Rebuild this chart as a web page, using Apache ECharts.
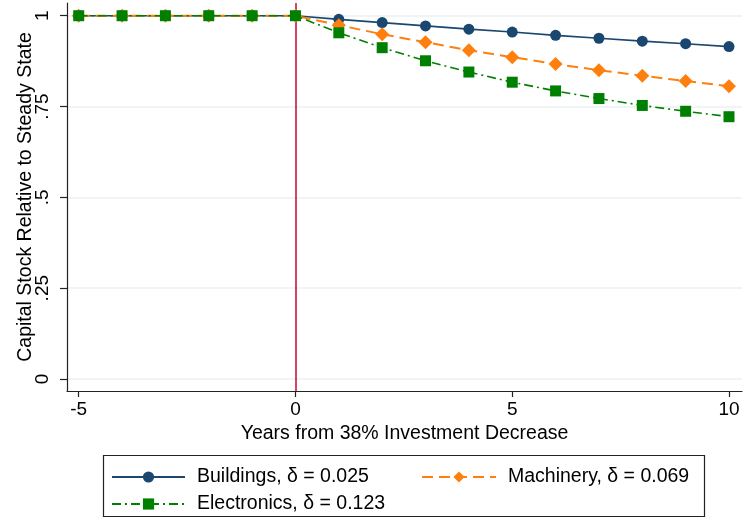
<!DOCTYPE html>
<html>
<head>
<meta charset="utf-8">
<script src="https://cdn.jsdelivr.net/npm/echarts@6/dist/echarts.min.js"></script>
<style>
  html, body { margin: 0; padding: 0; background: #fff; }
  #chart { width: 743px; height: 518px; }
</style>
</head>
<body>
<div id="chart"></div>
<script>
// Years relative to the investment cut
const years = [-5, -4, -3, -2, -1, 0, 1, 2, 3, 4, 5, 6, 7, 8, 9, 10];
// Capital stock relative to steady state, by asset type
const buildings   = [1, 1, 1, 1, 1, 1, 0.990, 0.981, 0.972, 0.963, 0.955, 0.946, 0.938, 0.930, 0.923, 0.915];
const machinery   = [1, 1, 1, 1, 1, 1, 0.974, 0.949, 0.927, 0.905, 0.886, 0.867, 0.850, 0.835, 0.820, 0.806];
const electronics = [1, 1, 1, 1, 1, 1, 0.953, 0.912, 0.876, 0.845, 0.817, 0.793, 0.772, 0.753, 0.737, 0.722];
const seriesNames = ['Buildings, δ = 0.025', 'Machinery, δ = 0.069', 'Electronics, δ = 0.123'];
// Axis ticks
const xTicks = [-5, 0, 5, 10];
const yTicks = [0, 0.25, 0.5, 0.75, 1];
const yTickLabels = ['0', '.25', '.5', '.75', '1'];
const eventYear = 0;

const FONT = 'Liberation Sans, Arial, Helvetica, sans-serif';
const pairs = vals => years.map((y, i) => [y, vals[i]]);

const chart = echarts.init(document.getElementById('chart'), null, { renderer: 'canvas' });

chart.setOption({
  backgroundColor: '#ffffff',
  animation: false,
  textStyle: { fontFamily: FONT, color: '#000' },
  grid: { left: 67, right: 1, top: 3, bottom: 127, containLabel: false },
  xAxis: {
    type: 'value',
    min: -5.27, max: 10.3,
    name: 'Years from 38% Investment Decrease',
    nameLocation: 'middle',
    nameGap: 33,
    nameMoveOverlap: false,
    nameTextStyle: { fontSize: 19.5, fontFamily: FONT, color: '#000' },
    axisLine: { show: true, onZero: false, lineStyle: { color: '#222', width: 1.2 } },
    axisTick: { show: true, length: 6, customValues: xTicks, lineStyle: { color: '#222', width: 1.2 } },
    axisLabel: { customValues: xTicks, margin: 9, fontSize: 19, fontFamily: FONT, color: '#000' },
    splitLine: { show: false }
  },
  yAxis: {
    type: 'value',
    min: -0.033, max: 1.035,
    name: 'Capital Stock Relative to Steady State',
    nameLocation: 'middle',
    nameGap: 31,
    nameRotate: 90,
    nameMoveOverlap: false,
    nameTextStyle: { fontSize: 19.5, fontFamily: FONT, color: '#000' },
    axisLine: { show: true, onZero: false, lineStyle: { color: '#222', width: 1.2 } },
    axisTick: { show: true, length: 7, customValues: yTicks, lineStyle: { color: '#222', width: 1.2 } },
    axisLabel: {
      customValues: yTicks, rotate: 90, margin: 15, fontSize: 19, fontFamily: FONT, color: '#000',
      formatter: v => { const i = yTicks.findIndex(t => Math.abs(t - v) < 1e-9); return i >= 0 ? yTickLabels[i] : ''; }
    },
    splitLine: { show: true, customValues: yTicks, lineStyle: { color: '#eaf2f3', width: 1.5 } }
  },
  legend: [
    {
      data: [seriesNames[0], seriesNames[2]],
      orient: 'vertical',
      left: 111, top: 467,
      itemWidth: 73, itemHeight: 14, itemGap: 7,
      padding: 0,
      textStyle: { fontSize: 19.5, fontFamily: FONT, color: '#000', padding: [0, 0, 0, 7], lineHeight: 20 }
    },
    {
      data: [seriesNames[1]],
      orient: 'vertical',
      left: 421, top: 467,
      itemWidth: 74, itemHeight: 14,
      padding: 0,
      textStyle: { fontSize: 19.5, fontFamily: FONT, color: '#000', padding: [0, 0, 0, 7], lineHeight: 20 }
    }
  ],
  graphic: [
    {
      type: 'rect', silent: true, z: -1,
      shape: { x: 103.5, y: 455.5, width: 601, height: 61 },
      style: { fill: '#fff', stroke: '#222', lineWidth: 1.2 }
    }
  ],
  series: [
    {
      name: seriesNames[0],
      type: 'line',
      data: pairs(buildings),
      symbol: 'circle', symbolSize: 11,
      itemStyle: { color: '#1a476f' },
      lineStyle: { color: '#1a476f', width: 1.6, type: 'solid' },
      z: 3,
      markLine: {
        silent: true, symbol: 'none', label: { show: false },
        lineStyle: { color: '#c8143c', width: 1.6, type: 'solid' },
        data: [{ xAxis: eventYear }],
        z: 1
      }
    },
    {
      name: seriesNames[1],
      type: 'line',
      data: pairs(machinery),
      symbol: 'diamond', symbolSize: 14,
      itemStyle: { color: '#ff7f0e' },
      lineStyle: { color: '#ff7f0e', width: 2, type: [11, 6] },
      z: 4
    },
    {
      name: seriesNames[2],
      type: 'line',
      data: pairs(electronics),
      symbol: 'rect', symbolSize: 11,
      itemStyle: { color: '#008000' },
      lineStyle: { color: '#008000', width: 1.6, type: [9, 4, 2, 4] },
      z: 5
    }
  ]
});
</script>
</body>
</html>
